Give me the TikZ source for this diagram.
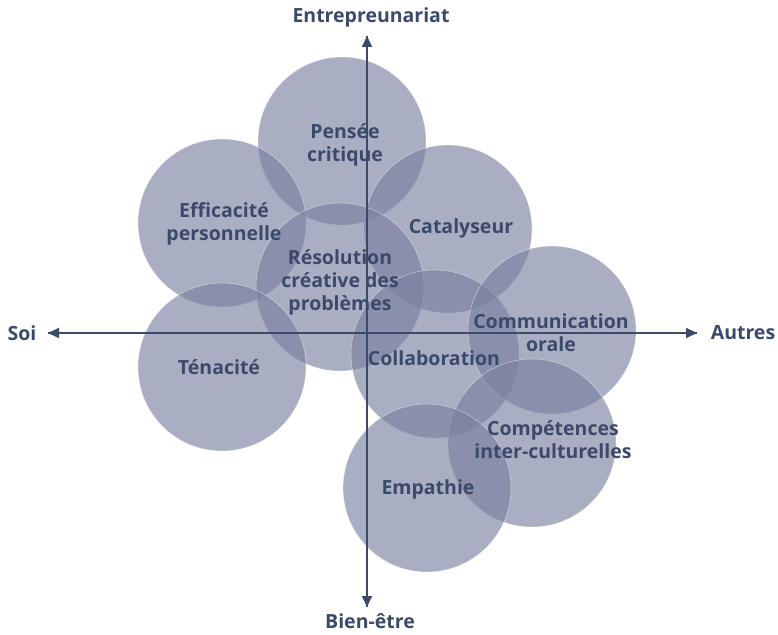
\documentclass[tikz,border=0pt]{standalone}
\usepackage{fontspec}
\setmainfont{Open Sans}
\usetikzlibrary{arrows.meta}
\definecolor{ink}{RGB}{59,74,107}
\definecolor{disc}{RGB}{121,128,160}
\tikzset{
  bubble/.style={circle, minimum size=168pt, inner sep=0pt, fill=disc, fill opacity=0.64, draw=white, draw opacity=0.5, line width=0.5pt},
  axis/.style={draw=ink, line width=1.8pt, -{Triangle[length=11pt,width=10pt]}},
  lbl/.style={text=ink, font=\fontsize{19.5}{23}\selectfont\bfseries, align=center, inner sep=0pt},
}
\begin{document}
\begin{tikzpicture}[x=1pt,y=-1pt]
\useasboundingbox (0,0) rectangle (778,634);
\node[bubble] (c1) at (342,141) {};
\node[bubble] (c2) at (222,223) {};
\node[bubble] (c3) at (448,229) {};
\node[bubble] (c4) at (340,287) {};
\node[bubble] (c5) at (222,367) {};
\node[bubble] (c6) at (435,354) {};
\node[bubble] (c7) at (552,330) {};
\node[bubble] (c8) at (532,443) {};
\node[bubble] (c9) at (427,488) {};
\coordinate (top) at (367,36);
\coordinate (bot) at (367,607);
\coordinate (lft) at (48,333);
\coordinate (rgt) at (697,333);
\draw[axis] (bot) -- (top);
\draw[axis] (top) -- (bot);
\draw[axis] (rgt) -- (lft);
\draw[axis] (lft) -- (rgt);
\node[lbl] (n0) at (371,17) {Entrepreunariat};
\node[lbl] (n00) at (370,621) {Bien-être};
\node[lbl] (n01) at (22,333) {Soi};
\node[lbl] (n02) at (743,333) {Autres};
\node[lbl] (t1) at (345,145) {Pensée\\critique};
\node[lbl] (t2) at (224,224) {Efficacité\\personnelle};
\node[lbl] (t3) at (461,228) {Catalyseur};
\node[lbl] (t4) at (340,282) {Résolution\\créative des\\problèmes};
\node[lbl] (t5) at (219,367) {Ténacité};
\node[lbl] (t6) at (434,358) {Collaboration};
\node[lbl] (t7) at (551,333) {Communication\\orale};
\node[lbl] (t8) at (553,440) {Compétences\\inter-culturelles};
\node[lbl] (t9) at (428,489) {Empathie};
\end{tikzpicture}
\end{document}
